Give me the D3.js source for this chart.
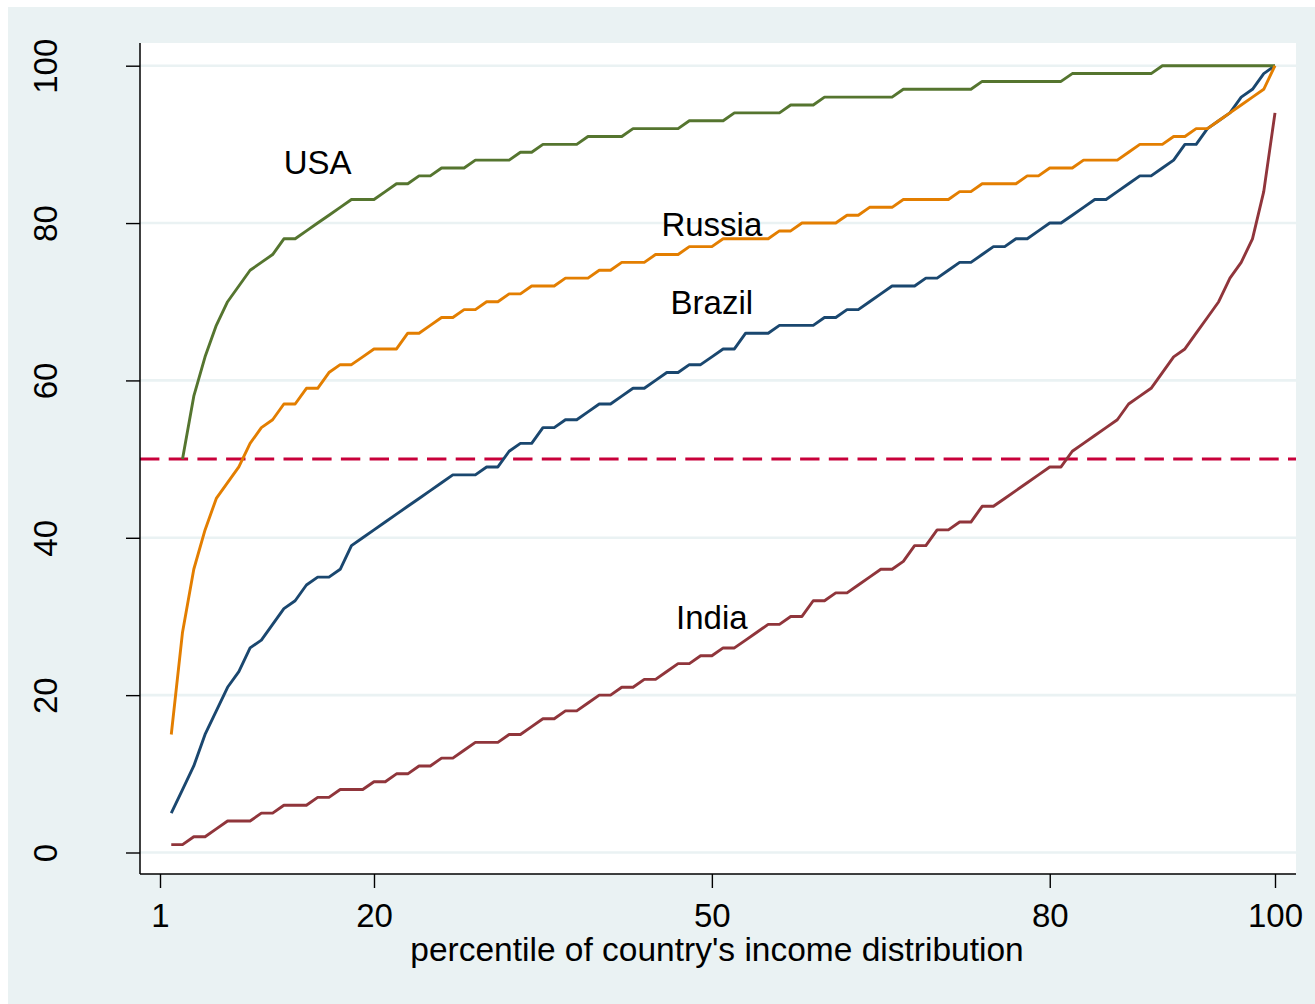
<!DOCTYPE html>
<html>
<head>
<meta charset="utf-8">
<script src="https://cdn.jsdelivr.net/npm/d3@7/dist/d3.min.js"></script>
<style>
  html, body { margin: 0; padding: 0; background: #ffffff; }
  svg { display: block; }
  text { font-family: "Liberation Sans", Arial, Helvetica, sans-serif; fill: #000; }
</style>
</head>
<body>
<svg id="chart" width="1315" height="1004"></svg>
<script>
// Percentile of each country's income distribution (x) and the matching
// percentile of the world income distribution (y).
const percentiles = d3.range(2, 101);

const usa = [
  null, 50, 58, 63, 67, 70, 72, 74, 75, 76,
  78, 78, 79, 80, 81, 82, 83, 83, 83, 84,
  85, 85, 86, 86, 87, 87, 87, 88, 88, 88,
  88, 89, 89, 90, 90, 90, 90, 91, 91, 91,
  91, 92, 92, 92, 92, 92, 93, 93, 93, 93,
  94, 94, 94, 94, 94, 95, 95, 95, 96, 96,
  96, 96, 96, 96, 96, 97, 97, 97, 97, 97,
  97, 97, 98, 98, 98, 98, 98, 98, 98, 98,
  99, 99, 99, 99, 99, 99, 99, 99, 100, 100,
  100, 100, 100, 100, 100, 100, 100, 100, 100
];

const russia = [
  15, 28, 36, 41, 45, 47, 49, 52, 54, 55,
  57, 57, 59, 59, 61, 62, 62, 63, 64, 64,
  64, 66, 66, 67, 68, 68, 69, 69, 70, 70,
  71, 71, 72, 72, 72, 73, 73, 73, 74, 74,
  75, 75, 75, 76, 76, 76, 77, 77, 77, 78,
  78, 78, 78, 78, 79, 79, 80, 80, 80, 80,
  81, 81, 82, 82, 82, 83, 83, 83, 83, 83,
  84, 84, 85, 85, 85, 85, 86, 86, 87, 87,
  87, 88, 88, 88, 88, 89, 90, 90, 90, 91,
  91, 92, 92, 93, 94, 95, 96, 97, 100
];

const brazil = [
  5, 8, 11, 15, 18, 21, 23, 26, 27, 29,
  31, 32, 34, 35, 35, 36, 39, 40, 41, 42,
  43, 44, 45, 46, 47, 48, 48, 48, 49, 49,
  51, 52, 52, 54, 54, 55, 55, 56, 57, 57,
  58, 59, 59, 60, 61, 61, 62, 62, 63, 64,
  64, 66, 66, 66, 67, 67, 67, 67, 68, 68,
  69, 69, 70, 71, 72, 72, 72, 73, 73, 74,
  75, 75, 76, 77, 77, 78, 78, 79, 80, 80,
  81, 82, 83, 83, 84, 85, 86, 86, 87, 88,
  90, 90, 92, 93, 94, 96, 97, 99, 100
];

const india = [
  1, 1, 2, 2, 3, 4, 4, 4, 5, 5,
  6, 6, 6, 7, 7, 8, 8, 8, 9, 9,
  10, 10, 11, 11, 12, 12, 13, 14, 14, 14,
  15, 15, 16, 17, 17, 18, 18, 19, 20, 20,
  21, 21, 22, 22, 23, 24, 24, 25, 25, 26,
  26, 27, 28, 29, 29, 30, 30, 32, 32, 33,
  33, 34, 35, 36, 36, 37, 39, 39, 41, 41,
  42, 42, 44, 44, 45, 46, 47, 48, 49, 49,
  51, 52, 53, 54, 55, 57, 58, 59, 61, 63,
  64, 66, 68, 70, 73, 75, 78, 84, 94
];

const seriesNames  = ["Brazil", "India", "USA", "Russia"];
const seriesValues = [brazil, india, usa, russia];
const seriesColors = ["#1a476f", "#90353b", "#55752f", "#e37e00"];
// label anchor (percentile, world percentile) for each curve
const labelAnchors = [[50, 70], [50, 30], [15, 87.8], [50, 80]];

const xTicks = [1, 20, 50, 80, 100];
const yTicks = [0, 20, 40, 60, 80, 100];
const medianLine = 50;
const xTitle = "percentile of country's income distribution";

const svg = d3.select("#chart");

// graph region
svg.append("rect")
  .attr("x", 8).attr("y", 7)
  .attr("width", 1315 - 8).attr("height", 1004 - 7)
  .attr("fill", "#eaf2f3");

const plot = { left: 140, right: 1296, top: 43, bottom: 874 };

svg.append("rect")
  .attr("x", plot.left).attr("y", plot.top)
  .attr("width", plot.right - plot.left).attr("height", plot.bottom - plot.top)
  .attr("fill", "#ffffff");

const x = d3.scaleLinear().domain([1, 100]).range([160, 1275]);
const y = d3.scaleLinear().domain([0, 100]).range([852.5, 65.7]);

// horizontal grid
svg.append("g")
  .selectAll("line")
  .data(yTicks)
  .join("line")
  .attr("x1", plot.left).attr("x2", plot.right)
  .attr("y1", d => y(d)).attr("y2", d => y(d))
  .attr("stroke", "#eaf2f3")
  .attr("stroke-width", 2.6);

// 50th percentile reference line
svg.append("line")
  .attr("x1", plot.left).attr("x2", plot.right)
  .attr("y1", y(medianLine)).attr("y2", y(medianLine))
  .attr("stroke", "#c8003a")
  .attr("stroke-width", 3)
  .attr("stroke-dasharray", "19.4 9.3");

// curves
const line = d3.line()
  .defined(d => d[1] != null)
  .x(d => x(d[0]))
  .y(d => y(d[1]));

svg.append("g")
  .selectAll("path")
  .data(seriesValues)
  .join("path")
  .attr("d", vals => line(percentiles.map((p, i) => [p, vals[i]])))
  .attr("fill", "none")
  .attr("stroke", (d, i) => seriesColors[i])
  .attr("stroke-width", 2.9)
  .attr("stroke-linejoin", "round")
  .attr("stroke-linecap", "butt");

// curve labels
svg.append("g")
  .selectAll("text")
  .data(seriesNames)
  .join("text")
  .attr("x", (d, i) => x(labelAnchors[i][0]))
  .attr("y", (d, i) => y(labelAnchors[i][1]))
  .attr("dy", "0.38em")
  .attr("text-anchor", "middle")
  .style("font-size", "33px")
  .text(d => d);

// y axis
const yAxis = svg.append("g")
  .attr("transform", `translate(${plot.left},0)`)
  .call(d3.axisLeft(y).tickValues(yTicks).tickSize(14).tickPadding(0));
yAxis.select(".domain").remove();
yAxis.selectAll(".tick line").attr("stroke", "#000").attr("stroke-width", 1.4);
yAxis.selectAll(".tick text")
  .attr("transform", "rotate(-90)")
  .attr("x", 0).attr("y", -83).attr("dy", 0)
  .attr("text-anchor", "middle")
  .style("font-size", "33px")
  .style("font-family", "'Liberation Sans', Arial, sans-serif");

// x axis
const xAxis = svg.append("g")
  .attr("transform", `translate(0,${plot.bottom})`)
  .call(d3.axisBottom(x).tickValues(xTicks).tickSize(14).tickPadding(0));
xAxis.select(".domain").remove();
xAxis.selectAll(".tick line").attr("stroke", "#000").attr("stroke-width", 1.4);
xAxis.selectAll(".tick text")
  .attr("y", 53).attr("dy", 0)
  .style("font-size", "33px")
  .style("font-family", "'Liberation Sans', Arial, sans-serif");

// axis lines
svg.append("line")
  .attr("x1", plot.left).attr("x2", plot.left)
  .attr("y1", plot.top).attr("y2", plot.bottom)
  .attr("stroke", "#000").attr("stroke-width", 1.5);
svg.append("line")
  .attr("x1", plot.left).attr("x2", plot.right)
  .attr("y1", plot.bottom).attr("y2", plot.bottom)
  .attr("stroke", "#000").attr("stroke-width", 1.5);

// axis title
svg.append("text")
  .attr("x", 717)
  .attr("y", 961)
  .attr("text-anchor", "middle")
  .style("font-size", "33.5px")
  .text(xTitle);
</script>
</body>
</html>
